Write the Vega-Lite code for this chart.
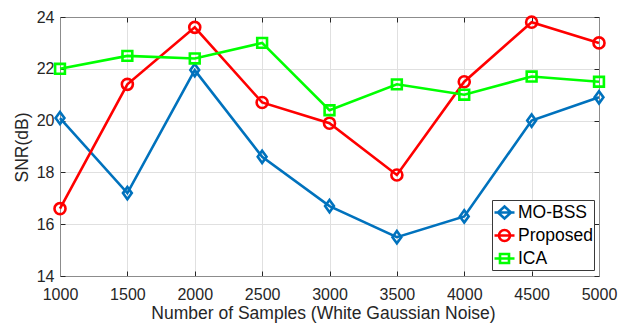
{
  "$schema": "https://vega.github.io/schema/vega-lite/v6.json",
  "autosize": "none",
  "width": 539,
  "height": 259,
  "padding": {"left": 60, "top": 17, "right": 41, "bottom": 50},
  "background": "white",
  "config": {
    "font": "Liberation Sans",
    "view": {"stroke": null},
    "axis": {
      "domainColor": "#8c8c8c",
      "tickColor": "#262626",
      "labelColor": "#262626",
      "titleColor": "#262626",
      "labelFont": "Liberation Sans",
      "titleFont": "Liberation Sans",
      "labelFontSize": 16,
      "titleFontSize": 17.5,
      "titleFontWeight": "normal",
      "tickSize": -5,
      "labelFlush": false,
      "gridColor": "#e0e0e0",
      "gridWidth": 1
    },
    "legend": {
      "labelFont": "Liberation Sans",
      "labelFontSize": 17.5,
      "labelColor": "#000000"
    }
  },
  "data": {
    "values": [
      {"series": "MO-BSS", "samples": 1000, "snr": 20.1},
      {"series": "MO-BSS", "samples": 1500, "snr": 17.2},
      {"series": "MO-BSS", "samples": 2000, "snr": 21.95},
      {"series": "MO-BSS", "samples": 2500, "snr": 18.6},
      {"series": "MO-BSS", "samples": 3000, "snr": 16.7},
      {"series": "MO-BSS", "samples": 3500, "snr": 15.5},
      {"series": "MO-BSS", "samples": 4000, "snr": 16.3},
      {"series": "MO-BSS", "samples": 4500, "snr": 20.0},
      {"series": "MO-BSS", "samples": 5000, "snr": 20.9},
      {"series": "Proposed", "samples": 1000, "snr": 16.6},
      {"series": "Proposed", "samples": 1500, "snr": 21.4},
      {"series": "Proposed", "samples": 2000, "snr": 23.6},
      {"series": "Proposed", "samples": 2500, "snr": 20.7},
      {"series": "Proposed", "samples": 3000, "snr": 19.9},
      {"series": "Proposed", "samples": 3500, "snr": 17.9},
      {"series": "Proposed", "samples": 4000, "snr": 21.5},
      {"series": "Proposed", "samples": 4500, "snr": 23.8},
      {"series": "Proposed", "samples": 5000, "snr": 23.0},
      {"series": "ICA", "samples": 1000, "snr": 22.0},
      {"series": "ICA", "samples": 1500, "snr": 22.5},
      {"series": "ICA", "samples": 2000, "snr": 22.4},
      {"series": "ICA", "samples": 2500, "snr": 23.0},
      {"series": "ICA", "samples": 3000, "snr": 20.4},
      {"series": "ICA", "samples": 3500, "snr": 21.4},
      {"series": "ICA", "samples": 4000, "snr": 21.0},
      {"series": "ICA", "samples": 4500, "snr": 21.7},
      {"series": "ICA", "samples": 5000, "snr": 21.5}
    ]
  },
  "layer": [
    {
      "mark": {"type": "line", "strokeWidth": 2.6},
      "encoding": {
        "x": {
          "field": "samples", "type": "quantitative",
          "scale": {"domain": [1000, 5000], "nice": false, "zero": false},
          "axis": {"values": [1000,1500,2000,2500,3000,3500,4000,4500,5000], "format": "d",
                   "title": "Number of Samples (White Gaussian Noise)", "labelPadding": 15,
                   "titleBaseline": "alphabetic", "titleY": 42.5, "titleX": 263, "grid": true}
        },
        "y": {
          "field": "snr", "type": "quantitative",
          "scale": {"domain": [14, 24], "nice": false, "zero": false},
          "axis": {"values": [14,16,18,20,22,24], "title": "SNR(dB)", "labelPadding": 11,
                   "titleAngle": -90, "titleBaseline": "alphabetic", "titleAlign": "center",
                   "titleX": -32.5, "titleY": 130, "grid": true}
        },
        "color": {
          "field": "series", "type": "nominal",
          "scale": {"domain": ["MO-BSS", "Proposed", "ICA"], "range": ["#0072BD", "#FF0000", "#00FF00"]},
          "legend": {
            "orient": "none", "legendX": 432, "legendY": 183, "title": null,
            "labelFont": "Liberation Sans", "labelFontSize": 17.5, "labelColor": "#000000",
            "symbolSize": 400, "symbolStrokeWidth": 2.6,
            "strokeColor": "#3a3a3a", "fillColor": "white", "padding": 1,
            "rowPadding": 0, "labelOffset": 2,
            "encode": {
              "symbols": {
                "update": {
                  "shape": {"signal": "datum.value === 'MO-BSS' ? 'M-1,0L1,0M0,-0.6L0.65,0L0,0.6L-0.65,0Z' : datum.value === 'Proposed' ? 'M-1,0L1,0M0.55,0A0.55,0.55,0,1,1,-0.55,0A0.55,0.55,0,1,1,0.55,0Z' : 'M-1,0L1,0M-0.45,-0.45L0.45,-0.45L0.45,0.45L-0.45,0.45Z'"},
                  "fill": {"value": "transparent"},
                  "strokeWidth": {"value": 2.6},
                  "opacity": {"value": 1}
                }
              }
            }
          }
        }
      }
    },
    {
      "transform": [{"filter": "datum.series === 'MO-BSS'"}],
      "mark": {"type": "point", "filled": false, "strokeWidth": 2.6, "size": 150, "opacity": 1, "color": "#0072BD", "shape": "M0,-1L0.72,0L0,1L-0.72,0Z"},
      "encoding": {
        "x": {"field": "samples", "type": "quantitative", "axis": null},
        "y": {"field": "snr", "type": "quantitative", "axis": null}
      }
    },
    {
      "transform": [{"filter": "datum.series === 'Proposed'"}],
      "mark": {"type": "point", "filled": false, "strokeWidth": 2.6, "size": 150, "opacity": 1, "color": "#FF0000", "shape": "M0.9,0A0.9,0.9,0,1,1,-0.9,0A0.9,0.9,0,1,1,0.9,0Z"},
      "encoding": {
        "x": {"field": "samples", "type": "quantitative", "axis": null},
        "y": {"field": "snr", "type": "quantitative", "axis": null}
      }
    },
    {
      "transform": [{"filter": "datum.series === 'ICA'"}],
      "mark": {"type": "point", "filled": false, "strokeWidth": 2.6, "size": 150, "opacity": 1, "color": "#00FF00", "shape": "M-0.8,-0.8L0.8,-0.8L0.8,0.8L-0.8,0.8Z"},
      "encoding": {
        "x": {"field": "samples", "type": "quantitative", "axis": null},
        "y": {"field": "snr", "type": "quantitative", "axis": null}
      }
    },
    {
      "mark": {"type": "point", "opacity": 0},
      "encoding": {
        "x": {"field": "samples", "type": "quantitative",
              "axis": {"orient": "top", "values": [1000,1500,2000,2500,3000,3500,4000,4500,5000], "labels": false, "title": null, "grid": false}},
        "y": {"field": "snr", "type": "quantitative",
              "axis": {"orient": "right", "values": [14,16,18,20,22,24], "labels": false, "title": null, "grid": false}}
      }
    }
  ],
  "resolve": {"axis": {"x": "independent", "y": "independent"}}
}
